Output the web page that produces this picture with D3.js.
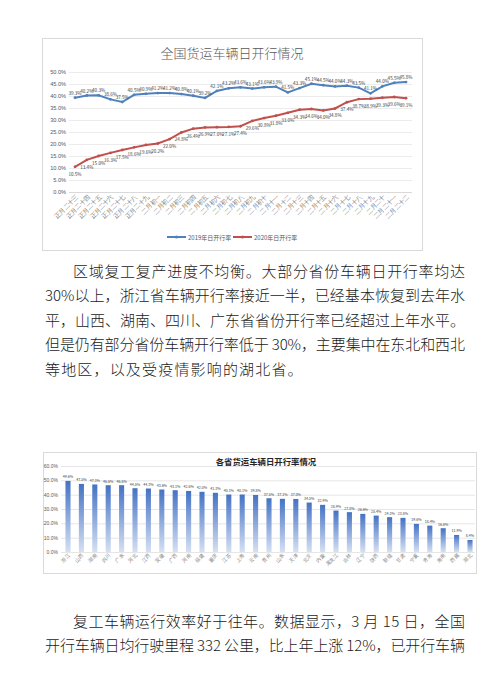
<!DOCTYPE html>
<html>
<head>
<meta charset="utf-8">
<script src="https://cdn.jsdelivr.net/npm/d3@7"></script>
<style>
  html, body { margin: 0; padding: 0; background: #fff; }
  svg { display: block; font-family: "Noto Sans CJK SC", "Noto Sans", sans-serif; }
</style>
</head>
<body>
<svg id="page" width="487" height="693"></svg>
<script>
// 全国货运车辆日开行率（农历对齐）
var dateLabels = ['正月二十三', '正月二十四', '正月二十五', '正月二十六', '正月二十七', '正月二十八', '正月二十九',
    '二月初一', '二月初二', '二月初三', '二月初四', '二月初五', '二月初六', '二月初七', '二月初八', '二月初九', '二月初十',
    '二月十一', '二月十二', '二月十三', '二月十四', '二月十五', '二月十六', '二月十七', '二月十八', '二月十九', '二月二十',
    '二月二十一', '二月二十二'];
var rate2019 = [39.3, 40.2, 40.3, 38.6, 37.5, 40.5, 40.9, 41.2, 41.2, 40.8, 40.1, 39.2, 42.1, 43.2, 43.6,
    43.1, 43.6, 43.9, 41.5, 43.3, 45.1, 44.5, 44.0, 44.3, 43.5, 41.1, 44.0, 45.5, 45.8];
var rate2020 = [10.5, 13.4, 15.0, 16.3, 17.5, 18.6, 19.6, 20.2, 22.0, 24.8, 26.4, 26.9, 27.0, 27.1, 27.4,
    29.6, 30.8, 31.8, 33.0, 34.3, 34.6, 34.0, 34.8, 37.4, 38.7, 38.9, 39.3, 39.6, 39.1];
var lineTicks = [0, 5, 10, 15, 20, 25, 30, 35, 40, 45, 50];
var seriesNames = ['2019年日开行率', '2020年日开行率'];

// 各省货运车辆日开行率
var provinces = ['浙江', '山西', '湖南', '四川', '广东', '河北', '江西', '安徽', '广西', '河南', '福建',
    '重庆', '江苏', '上海', '云南', '贵州', '山东', '天津', '北京', '内蒙', '黑龙江', '吉林', '辽宁',
    '陕西', '新疆', '甘肃', '宁夏', '青海', '海南', '西藏', '湖北'];
var provinceRates = [49.6, 47.5, 47.1, 46.6, 46.6, 44.5, 44.3, 43.6, 43.1, 42.6, 42.0, 41.3, 40.1, 40.1, 39.8,
    37.5, 37.1, 37.0, 34.5, 32.9, 28.9, 27.8, 26.6, 25.4, 24.3, 23.8, 19.6, 18.4, 16.6, 11.9, 8.4];
var barTicks = [0, 10, 20, 30, 40, 50, 60];

// 正文
var para1 = ['区域复工复产进度不均衡。大部分省份车辆日开行率均达',
    '30%以上，浙江省车辆开行率接近一半，已经基本恢复到去年水',
    '平，山西、湖南、四川、广东省省份开行率已经超过上年水平。',
    '但是仍有部分省份车辆开行率低于 30%，主要集中在东北和西北',
    '等地区，以及受疫情影响的湖北省。'];
var para2 = ['复工车辆运行效率好于往年。数据显示，3 月 15 日，全国',
    '开行车辆日均行驶里程 332 公里，比上年上涨 12%，已开行车辆'];

var pct = function (d) { return d.toFixed(1) + '%'; };
var svg = d3.select('#page');

function lineChart() {
    var g = svg.append('g');
    g.append('rect').attr('x', 42.5).attr('y', 38.5).attr('width', 380).attr('height', 212)
        .attr('fill', '#fff').attr('stroke', '#d9d9d9');

    g.append('text').attr('x', 232).attr('y', 52).attr('text-anchor', 'middle')
        .attr('dominant-baseline', 'central').attr('font-size', 13).attr('font-weight', 300)
        .attr('fill', '#595959').text('全国货运车辆日开行情况');

    var x = d3.scalePoint().domain(dateLabels).range([75, 406]),
        y = d3.scaleLinear().domain([0, 50]).range([192, 72]);

    var ya = g.append('g').attr('transform', 'translate(69,0)')
        .call(d3.axisLeft(y).tickValues(lineTicks).tickFormat(pct).tickSize(-343).tickPadding(3));
    ya.select('.domain').remove();
    ya.selectAll('line').attr('stroke', '#ececec');
    ya.selectAll('text').attr('font-size', 5.6).attr('fill', '#595959');

    var xa = g.append('g').attr('transform', 'translate(0,192)')
        .call(d3.axisBottom(x).tickSize(0).tickPadding(4));
    xa.select('.domain').attr('d', 'M69,0.5H412').attr('stroke', '#d9d9d9');
    xa.selectAll('text').attr('font-size', 6.4).attr('fill', '#7f7f7f')
        .attr('text-anchor', 'end').attr('dy', '0.3em')
        .attr('transform', 'rotate(-45) translate(-2,0)');

    var line = d3.line().x(function (d, i) { return x(dateLabels[i]); }).y(function (d) { return y(d); });
    var series = [
        { values: rate2019, color: '#4f81bd', dy: -5 },
        { values: rate2020, color: '#c0504d', dy: 7 }
    ];
    series.forEach(function (s) {
        g.append('path').datum(s.values).attr('d', line)
            .attr('fill', 'none').attr('stroke', s.color).attr('stroke-width', 2);
        g.selectAll(null).data(s.values).enter().append('circle')
            .attr('cx', function (d, i) { return x(dateLabels[i]); })
            .attr('cy', function (d) { return y(d); })
            .attr('r', 1.4).attr('fill', s.color);
        g.selectAll(null).data(s.values).enter().append('text')
            .attr('x', function (d, i) { return x(dateLabels[i]); })
            .attr('y', function (d) { return y(d) + s.dy; })
            .attr('text-anchor', 'middle').attr('dominant-baseline', 'central')
            .attr('font-size', 4.6).attr('fill', '#404040')
            .text(function (d) { return pct(d); });
    });

    // legend
    var lg = g.append('g').attr('transform', 'translate(167,237)');
    series.forEach(function (s, i) {
        var item = lg.append('g').attr('transform', 'translate(' + (i * 66) + ',0)');
        item.append('line').attr('x1', 0).attr('x2', 19).attr('stroke', s.color).attr('stroke-width', 2);
        item.append('circle').attr('cx', 9.5).attr('r', 1.6).attr('fill', s.color);
        item.append('text').attr('x', 21).attr('dominant-baseline', 'central')
            .attr('font-size', 6).attr('fill', '#595959').text(seriesNames[i]);
    });
}

function barChart() {
    var g = svg.append('g');
    var grad = svg.append('defs').append('linearGradient').attr('id', 'barfill')
        .attr('x1', 0).attr('y1', 0).attr('x2', 0).attr('y2', 1);
    grad.append('stop').attr('offset', '0%').attr('stop-color', '#4472c4');
    grad.append('stop').attr('offset', '100%').attr('stop-color', '#d5e0f3');

    g.append('rect').attr('x', 43.5).attr('y', 452.5).attr('width', 433).attr('height', 121)
        .attr('fill', '#fff').attr('stroke', '#d9d9d9');

    g.append('text').attr('x', 266).attr('y', 461).attr('text-anchor', 'middle')
        .attr('dominant-baseline', 'central').attr('font-size', 8.4).attr('font-weight', 'bold')
        .attr('fill', '#262626').text('各省货运车辆日开行率情况');

    var x = d3.scaleBand().domain(provinces).range([61.3, 476.7]).paddingInner(0.62).paddingOuter(0.31),
        y = d3.scaleLinear().domain([0, 60]).range([552, 466]);

    var ya = g.append('g').attr('transform', 'translate(61,0)')
        .call(d3.axisLeft(y).tickValues(barTicks).tickFormat(pct).tickSize(-414).tickPadding(3));
    ya.select('.domain').remove();
    ya.selectAll('line').attr('stroke', '#e6e6e6');
    ya.selectAll('text').attr('font-size', 5).attr('fill', '#595959');

    g.selectAll('.bar').data(provinceRates).enter().append('rect')
        .attr('class', 'bar')
        .attr('x', function (d, i) { return x(provinces[i]); })
        .attr('y', function (d) { return y(d); })
        .attr('width', x.bandwidth())
        .attr('height', function (d) { return y(0) - y(d); })
        .attr('fill', 'url(#barfill)');

    g.selectAll('.blabel').data(provinceRates).enter().append('text')
        .attr('class', 'blabel')
        .attr('x', function (d, i) { return x(provinces[i]) + x.bandwidth() / 2; })
        .attr('y', function (d) { return y(d) - 4; })
        .attr('text-anchor', 'middle').attr('dominant-baseline', 'central')
        .attr('font-size', 3.6).attr('fill', '#404040')
        .text(function (d) { return pct(d); });

    var xa = g.append('g').attr('transform', 'translate(0,552)')
        .call(d3.axisBottom(x).tickSize(0).tickPadding(3));
    xa.select('.domain').remove();
    xa.selectAll('text').attr('font-size', 5).attr('fill', '#7f7f7f')
        .attr('text-anchor', 'end').attr('dy', '0.3em')
        .attr('transform', 'rotate(-45) translate(-1,0)');
}

function paragraph(lines, top, lastShort) {
    var g = svg.append('g');
    lines.forEach(function (s, i) {
        var x0 = i == 0 ? 73 : 45;
        var last = lastShort && i == lines.length - 1;
        g.append('text')
            .attr('x', x0).attr('y', top + i * 24.6)
            .attr('dominant-baseline', 'central')
            .attr('font-size', 15).attr('font-weight', 300).attr('fill', '#1a1a1a')
            .attr('textLength', last ? 16 * 16.1 : 465 - x0)
            .attr('lengthAdjust', 'spacing')
            .text(s);
    });
}

lineChart();
paragraph(para1, 270, true);
barChart();
paragraph(para2, 620, false);
</script>
</body>
</html>
